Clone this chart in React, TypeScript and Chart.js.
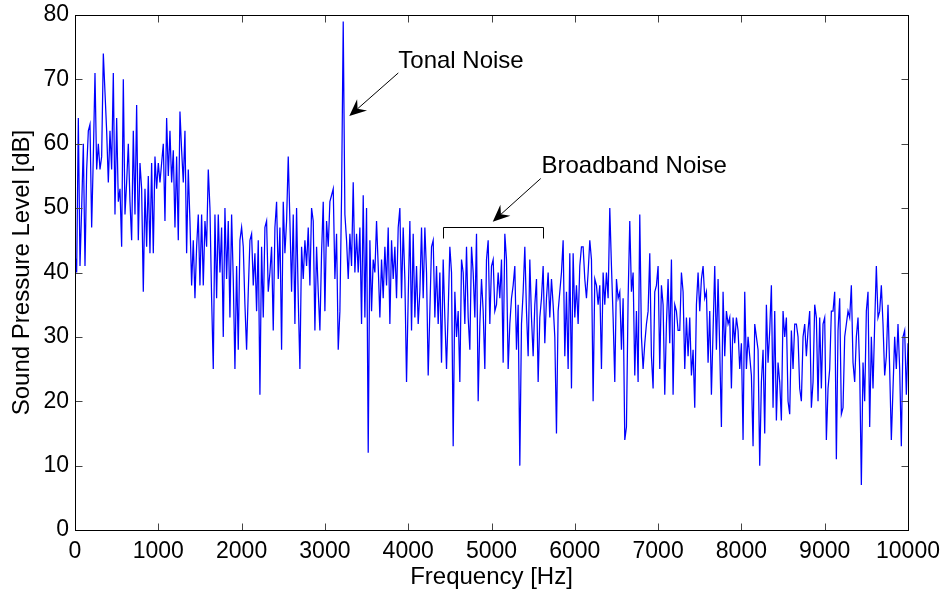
import React, { useEffect, useRef } from "react";
import { Chart, registerables } from "chart.js";

Chart.register(...registerables);

// ---- data (Sound pressure level in dB, sampled every 20 Hz) ----
const FREQ_STEP = 20;
const segmentStarts = [0, 1700, 3360, 4980, 6600, 8240];

const splLow = [
  43, 40, 64, 41, 50, 60, 41, 56, 62, 63,
  47, 58, 71, 56, 60, 56, 58, 74, 68, 62,
  54, 62, 56, 71, 49, 64, 51, 53, 44, 70,
  49, 54, 60, 51, 45, 62, 49, 66, 45, 57,
  53, 37, 53, 44, 55, 43, 57, 43, 58, 53,
  57, 54, 57, 60, 48, 64, 55, 62, 54, 59,
  47, 58, 45, 65, 59, 54, 62, 43, 56, 48,
  38, 45, 36, 44, 49, 38, 49, 38, 48, 44,
  56, 50, 36, 25, 49,
];

const splTonal = [
  36, 49, 40, 47, 30, 50, 39, 48, 33, 49,
  39, 25, 41, 28, 45, 47, 44, 35, 28, 37,
  45, 46, 38, 43, 34, 45, 21, 44, 33, 47,
  48, 37, 40, 44, 31, 47, 51, 39, 47, 28,
  51, 43, 48, 58, 48, 37, 49, 32, 50, 36,
  25, 44, 39, 45, 41, 47, 38, 50, 48, 31,
  44, 37, 31, 43, 51, 34, 48, 44, 51, 52,
  53, 39, 46, 28, 34, 52, 79, 49, 45, 39,
  46, 41, 54,
];

const splMidA = [
  40, 46, 40, 47, 32, 52, 33, 50, 12, 45,
  34, 42, 40, 48, 41, 33, 42, 36, 44, 38,
  47, 32, 45, 39, 44, 36, 47, 50, 36, 47,
  39, 23, 36, 48, 31, 46, 33, 41, 32, 37,
  47, 36, 47, 40, 24, 34, 44, 45, 33, 41,
  32, 40, 26, 42, 33, 25, 34, 44, 40, 13,
  37, 30, 34, 23, 42, 40, 32, 44, 33, 28,
  44, 40, 33, 46, 20, 32, 39, 34, 25, 42,
  45,
];

const splMidB = [
  32, 41, 42, 34, 35, 40, 36, 42, 26, 46,
  42, 25, 32, 36, 38, 41, 28, 35, 10, 32,
  37, 44, 34, 27, 42, 33, 27, 35, 39, 23,
  33, 36, 41, 29, 36, 40, 33, 39, 35, 30,
  15, 34, 37, 40, 45, 27, 37, 25, 43, 22,
  43, 33, 38, 32, 41, 44, 44, 39, 36, 40,
  45, 42, 20, 39, 38, 35, 38, 25, 40, 35,
  40, 36, 50, 41, 33, 23, 39, 36, 37, 28,
  36,
];

const splHighA = [
  14, 16, 36, 48, 37, 40, 24, 34, 23, 49,
  30, 25, 29, 32, 34, 43, 27, 22, 37, 38,
  41, 25, 38, 35, 21, 32, 39, 29, 42, 21,
  35, 34, 31, 31, 40, 37, 25, 33, 27, 33,
  24, 28, 19, 35, 40, 34, 39, 41, 36, 37,
  26, 34, 21, 31, 41, 28, 39, 28, 16, 37,
  27, 34, 32, 33, 22, 33, 29, 33, 31, 25,
  29, 14, 37, 25, 30, 27, 24, 13, 32, 30,
  28, 10,
];

const splHighB = [
  23, 28, 15, 35, 26, 31, 38, 19, 34, 17,
  26, 23, 17, 34, 30, 33, 20, 18, 31, 25,
  32, 32, 30, 22, 20, 30, 32, 27, 31, 34,
  19, 23, 35, 33, 20, 33, 22, 32, 33, 14,
  22, 25, 34, 34, 37, 11, 31, 36, 18, 19,
  30, 32, 34, 33, 38, 26, 23, 30, 33, 25,
  7, 26, 20, 34, 37, 16, 30, 22, 32, 41,
  33, 34, 38, 32, 24, 27, 35, 25, 14, 22,
  30, 25, 32, 25, 13, 30, 31, 21, 29,
];

const xTickValues = [0, 1000, 2000, 3000, 4000, 5000, 6000, 7000, 8000, 9000, 10000];
const yTickValues = [0, 10, 20, 30, 40, 50, 60, 70, 80];

// annotation anchors in data units (Hz, dB)
const tonalLabel = { text: "Tonal Noise", f: 3881, db: 71.8 };
const tonalArrow = { fromF: 3881, fromDb: 71.0, toF: 3293, toDb: 64.3 };
const broadLabel = { text: "Broadband Noise", f: 5600, db: 55.4 };
const broadArrow = { fromF: 5591, fromDb: 54.6, toF: 5015, toDb: 47.9 };
const broadBracket = { f1: 4421, f2: 5621, db: 47.1, legDb: 45.3 };

const FONT_FAMILY = '"Liberation Sans", Arial, Helvetica, sans-serif';

function buildPoints() {
  const segments = [splLow, splTonal, splMidA, splMidB, splHighA, splHighB];
  const pts: { x: number; y: number }[] = [];
  segments.forEach((seg, i) => {
    seg.forEach((v, j) => pts.push({ x: segmentStarts[i] + j * FREQ_STEP, y: v }));
  });
  return pts;
}

function drawArrow(ctx: CanvasRenderingContext2D, tx: number, ty: number, hx: number, hy: number) {
  const dx = tx - hx;
  const dy = ty - hy;
  const len = Math.hypot(dx, dy);
  const ux = dx / len;
  const uy = dy / len;
  const nx = -uy;
  const ny = ux;
  const L = 17;
  const W = 7.5;
  const N = 11;
  ctx.beginPath();
  ctx.moveTo(tx, ty);
  ctx.lineTo(hx + ux * N, hy + uy * N);
  ctx.stroke();
  ctx.beginPath();
  ctx.moveTo(hx, hy);
  ctx.lineTo(hx + ux * L + nx * W, hy + uy * L + ny * W);
  ctx.lineTo(hx + ux * N, hy + uy * N);
  ctx.lineTo(hx + ux * L - nx * W, hy + uy * L - ny * W);
  ctx.closePath();
  ctx.fill();
}

const framePlugin = {
  id: "matlabFrame",
  afterDatasetsDraw(chart: any) {
    const { ctx, chartArea, scales } = chart;
    const xs = scales.x;
    const ys = scales.y;
    const left = Math.round(chartArea.left) + 0.5;
    const right = Math.round(chartArea.right) + 0.5;
    const top = Math.round(chartArea.top) + 0.5;
    const bottom = Math.round(chartArea.bottom) + 0.5;
    ctx.save();
    ctx.lineWidth = 1;
    // inner ticks on all four sides
    ctx.strokeStyle = "#444";
    const tl = 7;
    xTickValues.forEach((v) => {
      const px = Math.round(xs.getPixelForValue(v)) + 0.5;
      ctx.beginPath();
      ctx.moveTo(px, bottom);
      ctx.lineTo(px, bottom - tl);
      ctx.moveTo(px, top);
      ctx.lineTo(px, top + tl);
      ctx.stroke();
    });
    yTickValues.forEach((v) => {
      const py = Math.round(ys.getPixelForValue(v)) + 0.5;
      ctx.beginPath();
      ctx.moveTo(left, py);
      ctx.lineTo(left + tl, py);
      ctx.moveTo(right, py);
      ctx.lineTo(right - tl, py);
      ctx.stroke();
    });
    // box
    ctx.strokeStyle = "#000";
    ctx.strokeRect(left, top, right - left, bottom - top);

    // annotations
    ctx.fillStyle = "#000";
    ctx.strokeStyle = "#000";
    ctx.font = `24px ${FONT_FAMILY}`;
    ctx.textAlign = "left";
    ctx.textBaseline = "alphabetic";
    ctx.fillText(tonalLabel.text, xs.getPixelForValue(tonalLabel.f), ys.getPixelForValue(tonalLabel.db));
    ctx.fillText(broadLabel.text, xs.getPixelForValue(broadLabel.f), ys.getPixelForValue(broadLabel.db));

    drawArrow(
      ctx,
      xs.getPixelForValue(tonalArrow.fromF),
      ys.getPixelForValue(tonalArrow.fromDb),
      xs.getPixelForValue(tonalArrow.toF),
      ys.getPixelForValue(tonalArrow.toDb)
    );
    drawArrow(
      ctx,
      xs.getPixelForValue(broadArrow.fromF),
      ys.getPixelForValue(broadArrow.fromDb),
      xs.getPixelForValue(broadArrow.toF),
      ys.getPixelForValue(broadArrow.toDb)
    );

    const bx1 = Math.round(xs.getPixelForValue(broadBracket.f1)) + 0.5;
    const bx2 = Math.round(xs.getPixelForValue(broadBracket.f2)) + 0.5;
    const by = Math.round(ys.getPixelForValue(broadBracket.db)) + 0.5;
    const byLeg = Math.round(ys.getPixelForValue(broadBracket.legDb)) + 0.5;
    ctx.beginPath();
    ctx.moveTo(bx1, byLeg);
    ctx.lineTo(bx1, by);
    ctx.lineTo(bx2, by);
    ctx.lineTo(bx2, byLeg);
    ctx.stroke();
    ctx.restore();
  },
};

export default function App() {
  const canvasRef = useRef<HTMLCanvasElement | null>(null);

  useEffect(() => {
    document.body.style.margin = "0";
    const canvas = canvasRef.current;
    if (!canvas) return;
    const tickFont = { family: FONT_FAMILY, size: 23 };
    const titleFont = { family: FONT_FAMILY, size: 24 };
    const chart = new Chart(canvas, {
      type: "line",
      data: {
        datasets: [
          {
            data: buildPoints(),
            borderColor: "#0000ff",
            borderWidth: 1.25,
            pointRadius: 0,
            tension: 0,
            fill: false,
          },
        ],
      },
      options: {
        responsive: false,
        maintainAspectRatio: false,
        animation: false,
        devicePixelRatio: 1,
        parsing: false,
        normalized: true,
        layout: { padding: { top: 15, right: 38, left: 0, bottom: 0 } },
        plugins: {
          legend: { display: false },
          tooltip: { enabled: false },
          title: { display: false },
        },
        events: [],
        scales: {
          x: {
            type: "linear",
            min: 0,
            max: 10000,
            afterBuildTicks: (scale: any) => {
              scale.ticks = xTickValues.map((v) => ({ value: v }));
            },
            afterFit: (scale: any) => {
              scale.height = 65;
              scale.paddingLeft = 0;
              scale.paddingRight = 0;
            },
            grid: { display: false, drawTicks: false },
            border: { display: false },
            ticks: {
              font: tickFont,
              color: "#000",
              padding: 8,
              maxRotation: 0,
              autoSkip: false,
              callback: (v: any) => String(v),
            },
            title: {
              display: true,
              text: "Frequency [Hz]",
              font: titleFont,
              color: "#000",
              padding: { top: 0, bottom: 3 },
            },
          },
          y: {
            type: "linear",
            min: 0,
            max: 80,
            afterBuildTicks: (scale: any) => {
              scale.ticks = yTickValues.map((v) => ({ value: v }));
            },
            afterFit: (scale: any) => {
              scale.width = 75;
              scale.paddingTop = 0;
              scale.paddingBottom = 0;
            },
            grid: { display: false, drawTicks: false },
            border: { display: false },
            ticks: {
              font: tickFont,
              color: "#000",
              padding: 6,
              autoSkip: false,
              callback: (v: any) => String(v),
            },
            title: {
              display: true,
              text: "Sound Pressure Level [dB]",
              font: titleFont,
              color: "#000",
              padding: { top: 8, bottom: 0 },
            },
          },
        },
      } as any,
      plugins: [framePlugin],
    });
    return () => chart.destroy();
  }, []);

  return (
    <div style={{ width: 946, height: 595, position: "relative" }}>
      <canvas ref={canvasRef} width={946} height={595} style={{ display: "block" }} />
    </div>
  );
}
